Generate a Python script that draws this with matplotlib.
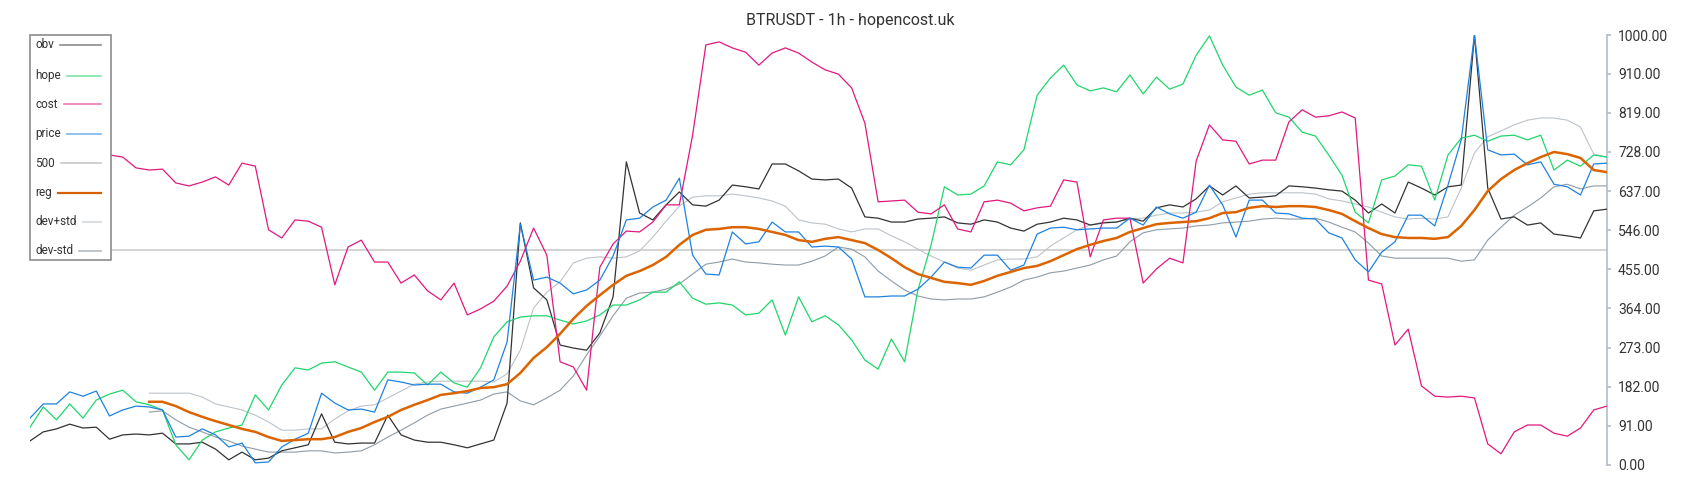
import numpy as np
import matplotlib
matplotlib.use("Agg")
import matplotlib.pyplot as plt
from matplotlib.lines import Line2D
from matplotlib.patches import Rectangle

plt.rcParams['font.family'] = ['Roboto', 'DejaVu Sans']

nan = np.nan

# hourly samples (120 points)
obv = [56, 77, 84, 95, 86, 88, 60, 70, 72, 70,
       74, 49, 49, 53, 37, 12, 30, 12, 16, 33,
       40, 47, 119, 53, 49, 51, 51, 116, 70, 58,
       53, 53, 47, 40, 49, 58, 144, 563, 412, 384,
       279, 272, 267, 307, 391, 705, 586, 570, 605, 635,
       605, 602, 616, 651, 647, 642, 700, 700, 684, 665,
       663, 665, 644, 577, 574, 565, 565, 572, 574, 577,
       563, 560, 570, 565, 551, 544, 560, 565, 574, 570,
       558, 563, 565, 574, 567, 598, 605, 600, 619, 649,
       628, 649, 621, 623, 626, 649, 647, 644, 640, 637,
       616, 586, 607, 586, 658, 644, 628, 647, 651, 1000,
       644, 572, 577, 558, 563, 537, 533, 528, 591, 595]

hope = [88, 135, 105, 142, 109, 151, 165, 174, 147, 140,
        128, 47, 12, 58, 77, 86, 93, 163, 128, 186,
        226, 221, 237, 240, 228, 216, 174, 216, 216, 214,
        186, 216, 191, 181, 226, 298, 333, 344, 347, 347,
        337, 328, 335, 349, 372, 372, 384, 402, 402, 426,
        388, 374, 377, 372, 349, 353, 384, 302, 391, 333,
        347, 326, 291, 244, 223, 293, 240, 407, 512, 647,
        628, 630, 649, 705, 698, 733, 860, 900, 930, 884,
        870, 877, 868, 907, 863, 902, 874, 886, 953, 998,
        930, 879, 860, 872, 819, 809, 774, 765, 721, 674,
        588, 563, 663, 672, 698, 695, 616, 721, 760, 767,
        753, 765, 767, 756, 767, 686, 709, 695, 721, 716]

cost = [725, 740, 730, 720, 735, 728, 721, 716, 691, 686,
        688, 656, 649, 658, 670, 651, 702, 695, 547, 528,
        570, 567, 553, 419, 507, 523, 472, 472, 423, 442,
        405, 384, 423, 349, 363, 381, 416, 474, 551, 488,
        240, 228, 174, 460, 514, 544, 542, 565, 605, 605,
        767, 977, 984, 970, 960, 930, 958, 970, 958, 937,
        919, 909, 877, 795, 612, 614, 616, 588, 584, 605,
        549, 542, 612, 616, 609, 591, 598, 602, 663, 658,
        484, 570, 574, 574, 423, 456, 481, 470, 707, 791,
        756, 753, 700, 709, 709, 798, 826, 809, 812, 821,
        807, 430, 421, 279, 316, 184, 160, 158, 160, 156,
        49, 26, 77, 93, 93, 74, 67, 86, 128, 137]

price = [109, 142, 142, 170, 160, 172, 114, 128, 137, 135,
         128, 65, 67, 84, 70, 42, 51, 5, 7, 42,
         60, 74, 167, 144, 128, 130, 123, 198, 193, 186,
         188, 188, 170, 167, 181, 198, 286, 560, 430, 437,
         423, 398, 407, 430, 486, 570, 574, 600, 616, 667,
         488, 444, 442, 542, 514, 519, 565, 542, 542, 507,
         509, 507, 479, 391, 391, 393, 393, 409, 437, 472,
         460, 458, 488, 488, 453, 465, 537, 551, 553, 547,
         549, 551, 551, 574, 558, 600, 584, 574, 588, 651,
         605, 530, 616, 616, 586, 584, 574, 572, 540, 528,
         477, 449, 495, 519, 581, 581, 556, 651, 756, 1000,
         733, 721, 723, 698, 705, 653, 647, 628, 700, 702]

level_500 = 500

reg = [nan, nan, nan, nan, nan, nan, nan, nan, nan, 147,
       147, 137, 123, 112, 102, 93, 84, 77, 65, 56,
       58, 60, 60, 65, 77, 86, 100, 112, 128, 140,
       151, 163, 167, 172, 179, 181, 188, 214, 249, 274,
       305, 340, 370, 395, 419, 440, 451, 465, 484, 512,
       535, 547, 549, 553, 553, 549, 542, 535, 523, 519,
       526, 530, 523, 516, 500, 481, 460, 444, 435, 426,
       423, 419, 428, 440, 449, 458, 463, 474, 488, 502,
       512, 521, 528, 542, 551, 560, 563, 565, 567, 574,
       586, 588, 598, 602, 600, 602, 602, 600, 593, 584,
       567, 551, 537, 530, 528, 528, 526, 530, 556, 593,
       637, 665, 686, 702, 716, 728, 723, 714, 686, 681]

dev_plus = [nan, nan, nan, nan, nan, nan, nan, nan, nan, 167,
            167, 167, 167, 158, 142, 135, 128, 116, 100, 81,
            81, 84, 84, 107, 126, 137, 140, 156, 172, 188,
            193, 195, 195, 195, 195, 193, 212, 267, 365, 402,
            426, 470, 481, 484, 481, 484, 498, 530, 567, 602,
            623, 626, 626, 630, 626, 621, 614, 602, 570, 563,
            560, 549, 542, 549, 549, 533, 519, 502, 486, 472,
            458, 453, 465, 477, 479, 479, 484, 509, 528, 547,
            558, 565, 565, 572, 574, 581, 586, 586, 588, 593,
            612, 621, 630, 633, 633, 633, 633, 630, 619, 614,
            607, 600, 588, 577, 572, 574, 572, 577, 644, 726,
            763, 777, 791, 802, 807, 807, 802, 786, 723, 716]

dev_minus = [nan, nan, nan, nan, nan, nan, nan, nan, nan, 123,
             126, 105, 88, 77, 65, 56, 44, 37, 30, 30,
             30, 33, 33, 28, 30, 33, 47, 65, 81, 98,
             116, 130, 137, 144, 151, 165, 170, 149, 140, 156,
             174, 207, 256, 300, 347, 388, 400, 402, 409, 421,
             444, 467, 472, 479, 472, 470, 467, 465, 465, 474,
             486, 507, 502, 484, 451, 428, 407, 393, 386, 384,
             386, 386, 391, 402, 414, 430, 437, 447, 451, 458,
             465, 477, 486, 519, 540, 547, 549, 551, 556, 558,
             563, 565, 567, 572, 574, 572, 572, 574, 565, 553,
             542, 516, 486, 481, 481, 481, 481, 481, 474, 477,
             523, 553, 581, 600, 621, 647, 653, 642, 649, 649]

yticks = [0, 91, 182, 273, 364, 455, 546, 637, 728, 819, 910, 1000]
title = "BTRUSDT - 1h - hopencost.uk"

legend_names = ["obv", "hope", "cost", "price", "500", "reg", "dev+std", "dev-std"]
legend_colors = ["#8c8c8c", "#7fe3a6", "#ec7db6", "#7cb7ec", "#c8c8c8", "#d46000", "#d4d9dd", "#b3bcc3"]
legend_widths = [1.2, 1.2, 1.2, 1.2, 1.2, 1.6, 1.2, 1.2]

W, H = 1700, 500
fig = plt.figure(figsize=(W / 100, H / 100), dpi=100)
ax = fig.add_axes([30 / W, 35 / H, 1577 / W, 430 / H])

x = np.arange(len(obv))

ax.axhline(level_500, color="#c8c8c8", lw=1.1, zorder=1)
ax.plot(x, dev_plus, color="#bcc3c9", lw=0.8, zorder=2)
ax.plot(x, dev_minus, color="#8f9ba5", lw=0.8, zorder=2)
ax.plot(x, obv, color="#333333", lw=0.9, zorder=3)
ax.plot(x, hope, color="#1fd66b", lw=0.9, zorder=3)
ax.plot(x, cost, color="#e2187e", lw=0.9, zorder=3)
ax.plot(x, price, color="#1e82e0", lw=0.9, zorder=4)
ax.plot(x, reg, color="#dc6400", lw=1.8, zorder=5)

ax.set_xlim(0, len(obv) - 1)
ax.set_ylim(0, 1000)

for s in ["left", "top", "bottom"]:
    ax.spines[s].set_visible(False)
ax.spines["right"].set_color("#b4bcc4")
ax.spines["right"].set_linewidth(1.2)
ax.set_xticks([])
ax.yaxis.tick_right()
ax.set_yticks(yticks)
ax.set_yticklabels([f"{v:.2f}" for v in yticks])
ax.tick_params(axis="y", direction="out", length=3, width=1.2, color="#b4bcc4",
               pad=5, labelsize=10, labelcolor="#333333")

fig.text(0.5, 1 - 21 / H, title, ha="center", va="center", fontsize=11.5, color="#333333")

# legend drawn by hand: label first, line filling the rest of the row
box = Rectangle((30 / W, 1 - 260 / H), 81 / W, 225 / H, transform=fig.transFigure,
                facecolor="white", edgecolor="#8c8c8c", lw=1.2, zorder=10)
fig.add_artist(box)
row_y = [45, 75.5, 104, 134, 163, 192.5, 221.5, 250.5]
renderer = fig.canvas.get_renderer()
for name, col, lw, ry in zip(legend_names, legend_colors, legend_widths, row_y):
    t = fig.text(35 / W, 1 - ry / H, name, ha="left", va="center", fontsize=8.5,
                 color="#333333", zorder=11)
    bb = t.get_window_extent(renderer)
    ln = Line2D([(bb.x1 + 6) / W, 101 / W], [1 - ry / H, 1 - ry / H],
                transform=fig.transFigure, color=col, lw=lw, zorder=11)
    fig.add_artist(ln)

fig.savefig("out.png", dpi=100)
